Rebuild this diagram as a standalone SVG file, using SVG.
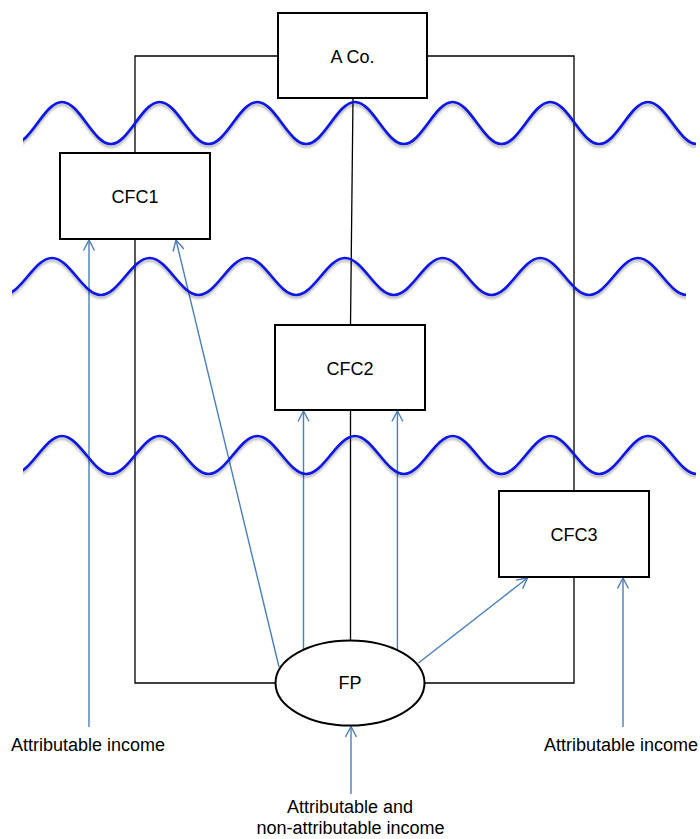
<svg xmlns="http://www.w3.org/2000/svg" width="700" height="839" viewBox="0 0 700 839">
<style>
.box{fill:#fff;stroke:#000;stroke-width:2}
.lbl{font-family:"Liberation Sans",Arial,sans-serif;font-size:18px;fill:#000;text-anchor:middle}
.tree{fill:none;stroke:#000;stroke-width:1.3}
.flow{fill:none;stroke:#4a7ebb;stroke-width:1.4}
.wave{fill:none;stroke:#0a14e6;stroke-width:2.7;filter:url(#sh)}
</style>
<defs>
<filter id="sh" x="-5%" y="-30%" width="110%" height="170%">
<feDropShadow dx="0" dy="2.5" stdDeviation="1.3" flood-color="#000" flood-opacity="0.3"/>
</filter>
<clipPath id="c1"><rect x="23" y="0" width="673" height="839"/></clipPath>
<clipPath id="c2"><rect x="12" y="0" width="674" height="839"/></clipPath>
<marker id="ah" markerUnits="userSpaceOnUse" markerWidth="14" markerHeight="14" viewBox="0 0 14 14" refX="12" refY="7" orient="auto">
<path d="M1.5,1.5 L12,7 L1.5,12.5" fill="none" stroke="#4a7ebb" stroke-width="1.4"/>
</marker>
</defs>
<g id="connectors">
<path class="tree" d="M278,56 H135 V683 H275"/>
<path class="tree" d="M427,56 H574 V683 H425"/>
<path class="tree" d="M353,98 L350.5,325"/>
<path class="tree" d="M350.5,410 V641"/>
<path class="flow" d="M89,727 V240" marker-end="url(#ah)"/>
<path class="flow" d="M279,667 L176,240" marker-end="url(#ah)"/>
<path class="flow" d="M303.5,652 V411" marker-end="url(#ah)"/>
<path class="flow" d="M397.4,652 V411" marker-end="url(#ah)"/>
<path class="flow" d="M418.4,663 L527.5,578" marker-end="url(#ah)"/>
<path class="flow" d="M623,727 V578" marker-end="url(#ah)"/>
<path class="flow" d="M351,794 V726.5" marker-end="url(#ah)"/>
</g>
<g id="waves">
<g clip-path="url(#c1)">
<path class="wave" d="M13.17,144 c17.77,0 31.06,-42 48.83,-42 s31.06,42 48.83,42 s31.06,-42 48.83,-42 s31.06,42 48.83,42 s31.06,-42 48.83,-42 s31.06,42 48.83,42 s31.06,-42 48.83,-42 s31.06,42 48.83,42 s31.06,-42 48.83,-42 s31.06,42 48.83,42 s31.06,-42 48.83,-42 s31.06,42 48.83,42 s31.06,-42 48.83,-42 s31.06,42 48.83,42"/>
</g>
<g clip-path="url(#c2)">
<path class="wave" d="M3.17,295 c17.77,0 31.06,-37 48.83,-37 s31.06,37 48.83,37 s31.06,-37 48.83,-37 s31.06,37 48.83,37 s31.06,-37 48.83,-37 s31.06,37 48.83,37 s31.06,-37 48.83,-37 s31.06,37 48.83,37 s31.06,-37 48.83,-37 s31.06,37 48.83,37 s31.06,-37 48.83,-37 s31.06,37 48.83,37 s31.06,-37 48.83,-37 s31.06,37 48.83,37"/>
</g>
<g clip-path="url(#c1)">
<path class="wave" d="M13.17,474 c17.77,0 31.06,-38 48.83,-38 s31.06,38 48.83,38 s31.06,-38 48.83,-38 s31.06,38 48.83,38 s31.06,-38 48.83,-38 s31.06,38 48.83,38 s31.06,-38 48.83,-38 s31.06,38 48.83,38 s31.06,-38 48.83,-38 s31.06,38 48.83,38 s31.06,-38 48.83,-38 s31.06,38 48.83,38 s31.06,-38 48.83,-38 s31.06,38 48.83,38"/>
</g>
</g>
<g id="aco">
<rect class="box" x="278" y="13" width="149" height="85"/>
<text class="lbl" x="352.5" y="63">A Co.</text>
</g>
<g id="cfc1">
<rect class="box" x="60" y="153" width="150" height="86"/>
<text class="lbl" x="135" y="203">CFC1</text>
</g>
<g id="cfc2">
<rect class="box" x="275" y="325" width="150" height="85"/>
<text class="lbl" x="350" y="375">CFC2</text>
</g>
<g id="cfc3">
<rect class="box" x="499" y="491" width="150" height="86"/>
<text class="lbl" x="574" y="541">CFC3</text>
</g>
<g id="fp">
<ellipse class="box" cx="350" cy="683" rx="74.5" ry="42.5"/>
<text class="lbl" x="350" y="689">FP</text>
</g>
<g id="labels">
<text class="lbl" x="88" y="751">Attributable income</text>
<text class="lbl" x="621" y="751">Attributable income</text>
<text class="lbl" x="350" y="813">Attributable and</text>
<text class="lbl" x="350.5" y="834">non-attributable income</text>
</g>
</svg>
